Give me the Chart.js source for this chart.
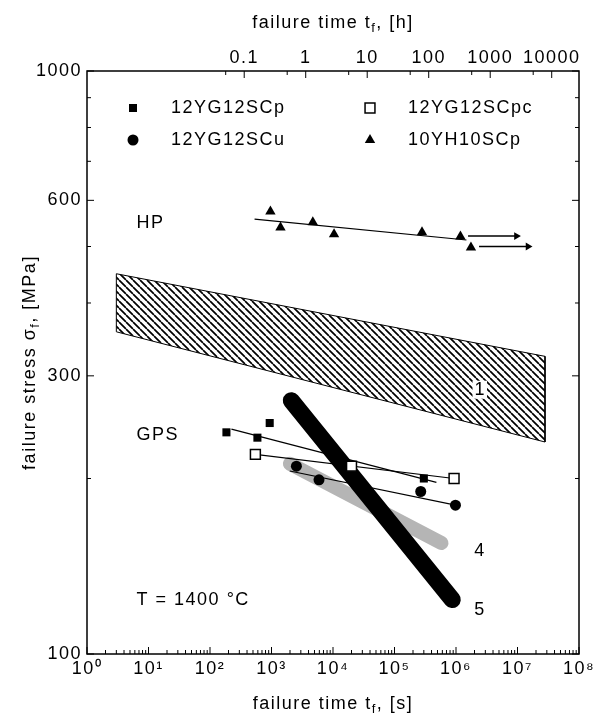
<!DOCTYPE html>
<html>
<head>
<meta charset="utf-8">
<script src="https://cdn.jsdelivr.net/npm/chart.js@4.4.1/dist/chart.umd.min.js"></script>
<style>
  html, body { margin: 0; padding: 0; background: #fff; }
  canvas { display: block; }
</style>
</head>
<body>
<canvas id="creepChart" width="600" height="716"></canvas>
<script>
/* ─── Data: failure time [s], failure stress [MPa] ─── */
const hpTime = [960, 1400, 4700, 10400, 2.8e5, 1.18e6, 1.75e6];
const hpStress = [574, 539, 550, 525, 529, 520, 498];
const hpFitTime = [530, 1.48e6];
const hpFitStress = [557, 513];
const arrowTimeA = [1.57e6, 9.6e6];
const arrowTimeB = [2.37e6, 1.48e7];
const arrowStress = [521, 500];

const scpTime = [185, 590, 935, 1.55e4, 3.0e5];
const scpStress = [240, 235, 249, 210, 200];
const scpFitTime = [223, 4.8e5];
const scpFitStress = [243, 197];

const scpcTime = [547, 2.0e4, 9.3e5];
const scpcStress = [220, 210, 200];

const scuTime = [2540, 5920, 2.67e5, 9.8e5];
const scuStress = [210, 199, 190, 180];
const scuFitTime = [1980, 9.8e5];
const scuFitStress = [206, 180];

const bandTime = [3, 2.8e7];
const bandUpper = [449, 324];
const bandLower = [357, 231];

const curve4Time = [1990, 5.8e5];
const curve4Stress = [212, 155];
const curve5Time = [2100, 8.7e5];
const curve5Stress = [272, 124];

const noteText = ["HP", "GPS", "T = 1400 °C", "1", "4", "5"];
const noteTime = [6.4, 6.4, 6.4, 2.0e6, 1.98e6, 1.98e6];
const noteStress = [548, 237, 124, 284, 150, 119];

/* ─── Ticks ─── */
const xMajor = [1, 10, 100, 1e3, 1e4, 1e5, 1e6, 1e7, 1e8];
const xMinor = [];
xMajor.slice(0, -1).forEach((d) => { for (let k = 2; k <= 9; k++) xMinor.push(d * k); });
const hMajor = [0.1, 1, 10, 100, 1000, 10000];
const hMinor = [0.05, 0.5, 5, 50, 500, 5000];
const yMajor = [100, 300, 600, 1000];
const yMinor = [200, 400, 500, 700, 800, 900];
const SUP = "⁰¹²³⁴⁵⁶⁷⁸⁹";

const FONT = "'Liberation Sans', Arial, sans-serif";
const FS = 18;
const pts = (xs, ys) => xs.map((x, i) => ({ x, y: ys[i] }));

/* ─── Hatch pattern for band 1 ─── */
const canvas = document.getElementById("creepChart");
const ctx = canvas.getContext("2d");
function hatchPattern() {
  const c = document.createElement("canvas");
  c.width = 7;
  c.height = 7;
  const g = c.getContext("2d");
  g.strokeStyle = "#000";
  g.lineWidth = 1.7;
  g.beginPath();
  for (const k of [-7, 0, 7]) {
    g.moveTo(k, 0);
    g.lineTo(k + 7, 7);
  }
  g.stroke();
  return ctx.createPattern(c, "repeat");
}

const line = (xs, ys, order) => ({
  data: pts(xs, ys),
  showLine: true,
  borderColor: "#000",
  borderWidth: 1.2,
  pointRadius: 0,
  order,
});
const arrow = (xs, ys) => ({
  data: pts(xs, ys),
  showLine: true,
  borderColor: "#000",
  backgroundColor: "#000",
  borderWidth: 1.5,
  pointStyle: "triangle",
  rotation: 90,
  pointRadius: [0, 4.5],
  pointBorderWidth: 0,
  order: 6,
});

const markers = {
  scp: { pointStyle: "rect", pointRadius: 5.7, backgroundColor: "#000", borderColor: "#000", borderWidth: 0 },
  scpc: { pointStyle: "rect", pointRadius: 7, backgroundColor: "#fff", borderColor: "#000", borderWidth: 1.5 },
  scu: { pointStyle: "circle", pointRadius: 5.5, backgroundColor: "#000", borderColor: "#000", borderWidth: 0 },
  hp: { pointStyle: "triangle", pointRadius: 6, backgroundColor: "#000", borderColor: "#000", borderWidth: 0 },
};

/* ─── Frame, inward ticks, titles, legend, notes ─── */
function drawParts(c, parts, x, y, rotate) {
  c.save();
  c.translate(x, y);
  if (rotate) c.rotate(-Math.PI / 2);
  const fonts = parts.map((p) => (p.sub ? "13px " : FS + "px ") + FONT);
  let total = 0;
  const widths = parts.map((p, i) => { c.font = fonts[i]; const w = c.measureText(p.t).width; total += w; return w; });
  let cx = -total / 2;
  c.fillStyle = "#000";
  c.textBaseline = "alphabetic";
  c.textAlign = "left";
  parts.forEach((p, i) => {
    c.font = fonts[i];
    c.fillText(p.t, cx, p.sub ? 4 : 0);
    cx += widths[i];
  });
  c.restore();
}

const legendItems = [
  { label: "12YG12SCp", m: markers.scp, col: 0, row: 0 },
  { label: "12YG12SCpc", m: markers.scpc, col: 1, row: 0 },
  { label: "12YG12SCu", m: markers.scu, col: 0, row: 1 },
  { label: "10YH10SCp", m: markers.hp, col: 1, row: 1 },
];

const framePlugin = {
  id: "framePlugin",
  beforeDraw(chart) {
    chart.ctx.letterSpacing = "1.5px";
  },
  afterDraw(chart) {
    const { ctx: c, chartArea: a, scales } = chart;
    c.save();
    c.strokeStyle = "#000";
    c.lineWidth = 1.5;
    c.strokeRect(a.left, a.top, a.right - a.left, a.bottom - a.top);

    c.lineWidth = 1;
    c.beginPath();
    const tk = (x1, y1, x2, y2) => { c.moveTo(x1, y1); c.lineTo(x2, y2); };
    xMajor.forEach((v) => { const p = scales.x.getPixelForValue(v); tk(p, a.bottom, p, a.bottom - 7); });
    xMinor.forEach((v) => { const p = scales.x.getPixelForValue(v); tk(p, a.bottom, p, a.bottom - 4); });
    hMajor.forEach((v) => { const p = scales.x2.getPixelForValue(v); tk(p, a.top, p, a.top + 7); });
    hMinor.forEach((v) => { const p = scales.x2.getPixelForValue(v); tk(p, a.top, p, a.top + 4); });
    yMajor.forEach((v) => { const p = scales.y.getPixelForValue(v); tk(a.left, p, a.left + 7, p); tk(a.right, p, a.right - 7, p); });
    yMinor.forEach((v) => { const p = scales.y.getPixelForValue(v); tk(a.left, p, a.left + 4, p); tk(a.right, p, a.right - 4, p); });
    c.stroke();

    // axis titles
    const midX = (a.left + a.right) / 2;
    drawParts(c, [{ t: "failure time t" }, { t: "f", sub: true }, { t: ", [s]" }], midX, 709, false);
    drawParts(c, [{ t: "failure time t" }, { t: "f", sub: true }, { t: ", [h]" }], midX, 28, false);
    drawParts(c, [{ t: "failure stress σ" }, { t: "f", sub: true }, { t: ", [MPa]" }], 35, (a.top + a.bottom) / 2, true);

    // legend
    c.font = FS + "px " + FONT;
    c.textBaseline = "middle";
    c.textAlign = "left";
    legendItems.forEach((it) => {
      const mx = a.left + (it.col ? 283 : 46);
      const my = a.top + (it.row ? 69 : 37);
      c.fillStyle = it.m.backgroundColor;
      c.strokeStyle = it.m.borderColor;
      c.lineWidth = it.m.borderWidth;
      Chart.helpers.drawPoint(c, { pointStyle: it.m.pointStyle, radius: it.m.pointRadius, rotation: 0, borderWidth: it.m.borderWidth }, mx, my);
      c.fillStyle = "#000";
      c.fillText(it.label, mx + 38, my);
    });

    // notes
    noteText.forEach((t, i) => {
      const x = scales.x.getPixelForValue(noteTime[i]);
      const y = scales.y.getPixelForValue(noteStress[i]);
      if (t === "1") {
        const w = c.measureText(t).width;
        c.fillStyle = "#fff";
        c.fillRect(x - 2, y - 9, w + 3, 18);
      }
      c.fillStyle = "#000";
      c.fillText(t, x, y);
    });
    c.restore();
  },
};

const tickFont = { family: FONT, size: FS };

new Chart(ctx, {
  type: "scatter",
  data: {
    datasets: [
      {
        data: pts(
          [bandTime[0], bandTime[1], bandTime[1], bandTime[0], bandTime[0]],
          [bandUpper[0], bandUpper[1], bandLower[1], bandLower[0], bandUpper[0]]
        ),
        showLine: true,
        fill: "shape",
        backgroundColor: hatchPattern(),
        borderColor: "#000",
        borderWidth: 1,
        pointRadius: 0,
        order: 30,
      },
      {
        data: pts(curve4Time, curve4Stress),
        showLine: true,
        borderColor: "#b5b5b5",
        borderWidth: 14,
        borderCapStyle: "round",
        pointRadius: 0,
        order: 21,
      },
      {
        data: pts(curve5Time, curve5Stress),
        showLine: true,
        borderColor: "#000",
        borderWidth: 17,
        borderCapStyle: "round",
        pointRadius: 0,
        order: 20,
      },
      line(hpFitTime, hpFitStress, 10),
      line(scpFitTime, scpFitStress, 10),
      line([scpcTime[0], scpcTime[2]], [scpcStress[0], scpcStress[2]], 10),
      line(scuFitTime, scuFitStress, 10),
      arrow(arrowTimeA, [arrowStress[0], arrowStress[0]]),
      arrow(arrowTimeB, [arrowStress[1], arrowStress[1]]),
      { label: "12YG12SCp", data: pts(scpTime, scpStress), ...markers.scp, order: 5 },
      { label: "12YG12SCu", data: pts(scuTime, scuStress), ...markers.scu, order: 4 },
      { label: "12YG12SCpc", data: pts(scpcTime, scpcStress), ...markers.scpc, order: 3 },
      { label: "10YH10SCp", data: pts(hpTime, hpStress), ...markers.hp, order: 4 },
    ],
  },
  options: {
    responsive: false,
    animation: false,
    events: [],
    layout: { padding: { left: 0, right: 21, top: 0, bottom: 0 } },
    plugins: {
      legend: { display: false },
      tooltip: { enabled: false },
    },
    scales: {
      x: {
        type: "logarithmic",
        position: "bottom",
        min: 1,
        max: 1e8,
        grid: { display: false, drawTicks: false },
        border: { display: false },
        afterBuildTicks: (s) => { s.ticks = xMajor.map((v) => ({ value: v })); },
        afterFit: (s) => { s.height = 62; },
        ticks: {
          color: "#000",
          font: tickFont,
          padding: 4,
          maxRotation: 0,
          autoSkip: false,
          callback: (v) => "10" + SUP[Math.round(Math.log10(v))],
        },
      },
      x2: {
        type: "logarithmic",
        position: "top",
        min: 1 / 3600,
        max: 1e8 / 3600,
        grid: { display: false, drawTicks: false },
        border: { display: false },
        afterBuildTicks: (s) => { s.ticks = hMajor.map((v) => ({ value: v })); },
        afterFit: (s) => { s.height = 71; },
        ticks: {
          color: "#000",
          font: tickFont,
          padding: 2,
          maxRotation: 0,
          autoSkip: false,
          callback: (v) => String(v),
        },
      },
      y: {
        type: "logarithmic",
        position: "left",
        min: 100,
        max: 1000,
        grid: { display: false, drawTicks: false },
        border: { display: false },
        afterBuildTicks: (s) => { s.ticks = yMajor.map((v) => ({ value: v })); },
        afterFit: (s) => { s.width = 87; },
        ticks: {
          color: "#000",
          font: tickFont,
          padding: 5,
          autoSkip: false,
          callback: (v) => String(v),
        },
      },
    },
  },
  plugins: [framePlugin],
});
</script>
</body>
</html>
